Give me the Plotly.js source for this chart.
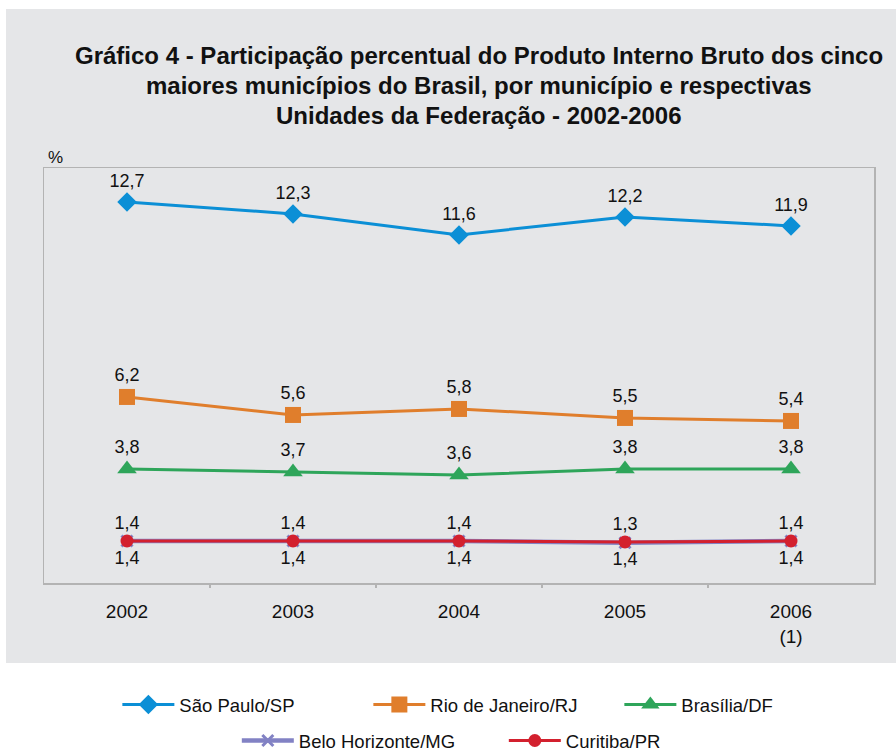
<!DOCTYPE html>
<html>
<head>
<meta charset="utf-8">
<script src="https://cdn.plot.ly/plotly-3.0.1.min.js"></script>
<style>html,body{margin:0;padding:0;background:#fff;}#chart{width:896px;height:751px;}</style>
</head>
<body>
<div id="chart"></div>
<script>
// ---- Data ----
const years = ['2002', '2003', '2004', '2005', '2006<br>(1)'];
const saoPaulo = [12.7, 12.3, 11.6, 12.2, 11.9];
const rioJaneiro = [6.2, 5.6, 5.8, 5.5, 5.4];
const brasilia = [3.8, 3.7, 3.6, 3.8, 3.8];
const beloHorizonte = [1.4, 1.4, 1.4, 1.34, 1.4];
const curitiba = [1.4, 1.4, 1.4, 1.37, 1.4];
const seriesNames = ['São Paulo/SP', 'Rio de Janeiro/RJ', 'Brasília/DF', 'Belo Horizonte/MG', 'Curitiba/PR'];
const titleLines = [
  'Gráfico 4 - Participação percentual do Produto Interno Bruto dos cinco',
  'maiores municípios do Brasil, por município e respectivas',
  'Unidades da Federação - 2002-2006'
];

const xIdx = years.map((_, i) => i);
const FONT = 'Liberation Sans, Arial, sans-serif';
const labelFont = {family: FONT, size: 18, color: '#111'};

function mk(y, name, color, symbol, size, pos, legend, lw) {
  return {
    type: 'scatter', mode: 'lines+markers+text',
    x: xIdx, y: y, name: name,
    line: {color: color, width: lw || 3},
    marker: {symbol: symbol, size: size, color: color, line: {width: symbol === 'x-thin' ? 3 : 0, color: color}},
    texttemplate: '%{y:.1f}', textposition: pos, textfont: labelFont,
    cliponaxis: false, legend: legend, hoverinfo: 'skip'
  };
}

const traces = [
  mk(saoPaulo, seriesNames[0], '#0b8fd6', 'diamond', 15, 'top center', 'legend'),
  mk(rioJaneiro, seriesNames[1], '#e07e2c', 'square', 16, 'top center', 'legend'),
  mk(brasilia, seriesNames[2], '#2ea55a', 'triangle-up', 17, 'top center', 'legend'),
  mk(beloHorizonte, seriesNames[3], '#8282c4', 'x-thin', 11, 'top center', 'legend2', 4.5),
  mk(curitiba, seriesNames[4], '#d3202e', 'circle', 13, 'bottom center', 'legend2')
];

const PL = 44, PR = 874, PT = 168, PB = 583;
const W = PR - PL, H = PB - PT;
const px = v => (v - PL) / W;
const py = v => (PB - v) / H;

const titleY = [55, 86, 115];
const annotations = titleLines.map((t, i) => ({
  text: '<b>' + t + '</b>', xref: 'paper', yref: 'paper',
  x: px(479), y: py(titleY[i]), xanchor: 'center', yanchor: 'middle',
  showarrow: false, font: {family: FONT, size: 24, color: '#111'}
}));
annotations.push({
  text: '%', xref: 'paper', yref: 'paper', x: px(46), y: py(158),
  xanchor: 'left', yanchor: 'middle', showarrow: false,
  font: {family: FONT, size: 17, color: '#111'}
});

const legendBase = {
  orientation: 'h', xref: 'paper', yref: 'paper', xanchor: 'center', yanchor: 'middle',
  bgcolor: 'rgba(0,0,0,0)', font: {family: FONT, size: 18.5, color: '#111'},
  itemwidth: 52, entrywidthmode: 'pixels'
};

const layout = {
  width: 896, height: 751,
  paper_bgcolor: '#ffffff', plot_bgcolor: '#ffffff',
  separators: ',.',
  margin: {l: PL, r: 896 - PR, t: PT, b: 751 - PB, autoexpand: false},
  showlegend: true,
  legend: Object.assign({}, legendBase, {x: 0.542, y: py(705), entrywidth: 184}),
  legend2: Object.assign({}, legendBase, {x: 0.554, y: py(741), entrywidth: 200}),
  xaxis: {
    type: 'linear', range: [-0.5, 4.5],
    tickvals: xIdx, ticktext: years,
    showgrid: false, zeroline: false,
    showline: true, linecolor: '#b3b3b3', linewidth: 1.5, mirror: true,
    ticks: '', ticklabelstandoff: 11,
    tickfont: {family: FONT, size: 19, color: '#111'}
  },
  xaxis2: {overlaying: 'x', range: [-0.5, 4.5], tickvals: [0.5, 1.5, 2.5, 3.5], ticktext: ['', '', '', ''],
    ticks: 'outside', ticklen: 4, tickcolor: '#b3b3b3', tickwidth: 1.5, showgrid: false, zeroline: false, showline: false},
  yaxis: {
    range: [0, 13.83], showgrid: false, zeroline: false, showticklabels: false, ticks: '',
    showline: true, linecolor: '#b3b3b3', linewidth: 1.5, mirror: true
  },
  shapes: [{
    type: 'rect', xref: 'paper', yref: 'paper', layer: 'below',
    x0: px(6), x1: px(896), y0: py(663), y1: py(9),
    fillcolor: '#e5e6e8', line: {width: 0}
  }],
  annotations: annotations
};

// invisible helper trace to show the boundary ticks on x2
traces.push({type: 'scatter', x: [0], y: [0], xaxis: 'x2', mode: 'markers', marker: {opacity: 0}, showlegend: false, hoverinfo: 'skip'});

Plotly.newPlot('chart', traces, layout, {displayModeBar: false, staticPlot: true});
</script>
</body>
</html>
